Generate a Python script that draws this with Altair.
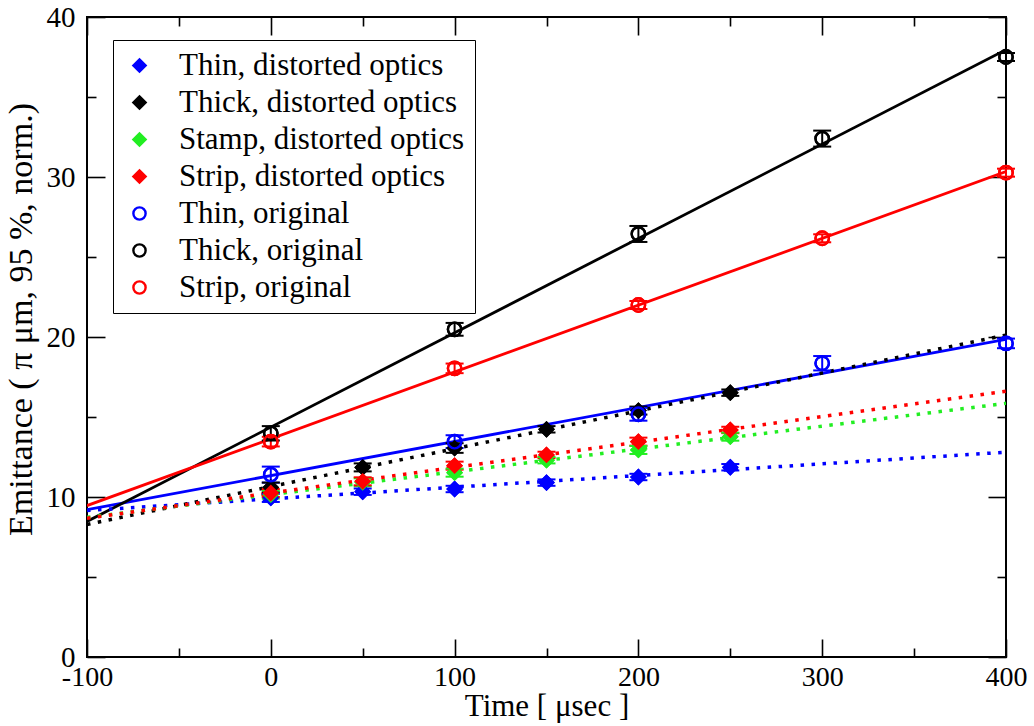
import altair as alt
import pandas as pd

# ---------------- data ----------------
series_names = [
    "Thin, distorted optics",
    "Thick, distorted optics",
    "Stamp, distorted optics",
    "Strip, distorted optics",
    "Thin, original",
    "Thick, original",
    "Strip, original",
]
series_colors = ["#0000ff", "#000000", "#22ee22", "#ff0000", "#0000ff", "#000000", "#ff0000"]
series_fills = ["#0000ff", "#000000", "#22ee22", "#ff0000", "transparent", "transparent", "transparent"]
series_shapes = ["diamond", "diamond", "diamond", "diamond", "circle", "circle", "circle"]

time_distorted = [0, 50, 100, 150, 200, 250]
thin_distorted = [9.94, 10.33, 10.50, 10.90, 11.25, 11.86]
thin_distorted_err = [0.25, 0.2, 0.2, 0.2, 0.2, 0.2]
thick_distorted = [10.60, 11.85, 13.06, 14.23, 15.40, 16.52]
thick_distorted_err = [0.3, 0.25, 0.3, 0.2, 0.25, 0.2]
stamp_distorted = [10.15, 10.92, 11.52, 12.30, 12.94, 13.77]
stamp_distorted_err = [0.25, 0.25, 0.25, 0.2, 0.25, 0.25]
strip_distorted = [10.25, 10.98, 11.96, 12.63, 13.46, 14.19]
strip_distorted_err = [0.25, 0.25, 0.25, 0.2, 0.25, 0.2]

time_original = [0, 100, 200, 300, 400]
thin_original = [11.40, 13.46, 15.17, 18.36, 19.60]
thin_original_err = [0.5, 0.4, 0.4, 0.45, 0.3]
thick_original = [13.98, 20.48, 26.44, 32.40, 37.50]
thick_original_err = [0.45, 0.4, 0.5, 0.5, 0.25]
strip_original = [13.46, 18.04, 22.00, 26.17, 30.27]
strip_original_err = [0.3, 0.3, 0.25, 0.25, 0.25]

x_major = [-100, 0, 100, 200, 300, 400]
x_minor = [-50, 50, 150, 250, 350]
y_major = [0, 10, 20, 30, 40]
y_minor = [5, 15, 25, 35]

# ---------------- table ----------------
rows = []
def add(name, kind, times, vals, errs):
    for t, v, e in zip(times, vals, errs):
        rows.append({"series": name, "kind": kind, "time": t, "value": v,
                     "lo": v - e, "hi": v + e})

add(series_names[0], "distorted", time_distorted, thin_distorted, thin_distorted_err)
add(series_names[1], "distorted", time_distorted, thick_distorted, thick_distorted_err)
add(series_names[2], "distorted", time_distorted, stamp_distorted, stamp_distorted_err)
add(series_names[3], "distorted", time_distorted, strip_distorted, strip_distorted_err)
add(series_names[4], "original", time_original, thin_original, thin_original_err)
add(series_names[5], "original", time_original, thick_original, thick_original_err)
add(series_names[6], "original", time_original, strip_original, strip_original_err)
df = pd.DataFrame(rows)

FONT = "Liberation Serif"
xscale = alt.Scale(domain=[-100, 400], nice=False, zero=False)
yscale = alt.Scale(domain=[0, 40], nice=False, zero=False)
stroke_scale = alt.Scale(domain=series_names, range=series_colors)
fill_scale = alt.Scale(domain=series_names, range=series_fills)
shape_scale = alt.Scale(domain=series_names, range=series_shapes)

base = alt.Chart(df)
X = alt.X("time:Q", scale=xscale, axis=None)
Y = alt.Y("value:Q", scale=yscale, axis=None)
S_noleg = alt.Stroke("series:N", scale=stroke_scale, legend=None)

lines_orig = (
    base.transform_filter(alt.datum.kind == "original")
    .transform_regression("time", "value", groupby=["series"], extent=[-100, 400])
    .mark_line(strokeWidth=2.8, clip=True)
    .encode(x=X, y=Y, stroke=S_noleg)
)
lines_dist = (
    base.transform_filter(alt.datum.kind == "distorted")
    .transform_regression("time", "value", groupby=["series"], extent=[-100, 400])
    .mark_line(strokeWidth=3.5, strokeDash=[3.5, 7.5], strokeCap="butt", clip=True)
    .encode(x=X, y=Y, stroke=S_noleg)
)
err_bar = base.mark_rule(strokeWidth=2).encode(
    x=X, y=alt.Y("lo:Q", scale=yscale, axis=None), y2="hi:Q", stroke=S_noleg
)
cap_lo = base.mark_rule(strokeWidth=2, xOffset=-9, x2Offset=9).encode(
    x=X, x2="time:Q", y=alt.Y("lo:Q", scale=yscale, axis=None), stroke=S_noleg
)
cap_hi = base.mark_rule(strokeWidth=2, xOffset=-9, x2Offset=9).encode(
    x=X, x2="time:Q", y=alt.Y("hi:Q", scale=yscale, axis=None), stroke=S_noleg
)

legend = alt.Legend(
    title=None, orient="none", legendX=26, legendY=23,
    labelFont=FONT, labelFontSize=31, labelColor="black", labelLimit=600,
    symbolSize=150, symbolStrokeWidth=2.4, labelOffset=24,
    strokeColor="black", fillColor="white", padding=10, rowPadding=5,
    symbolOffset=1,
)

def points_layer(with_legend):
    if with_legend:
        enc = dict(
            stroke=alt.Stroke("series:N", scale=stroke_scale, legend=legend),
            fill=alt.Fill("series:N", scale=fill_scale, legend=legend),
            shape=alt.Shape("series:N", scale=shape_scale, legend=legend),
        )
    else:
        enc = dict(
            stroke=S_noleg,
            fill=alt.Fill("series:N", scale=fill_scale, legend=None),
            shape=alt.Shape("series:N", scale=shape_scale, legend=None),
        )
    return base.mark_point(size=180, strokeWidth=2.4, opacity=1, fillOpacity=1).encode(
        x=X, y=Y, **enc
    )

# ---------------- axes (ticks pointing inward, frame on four sides) ----------------
common = dict(grid=False, domain=False)
def axis_layer(xaxis, yaxis):
    return base.mark_point(opacity=0).encode(
        x=alt.X("time:Q", scale=xscale, axis=xaxis),
        y=alt.Y("value:Q", scale=yscale, axis=yaxis),
    )

lab_x = alt.Axis(orient="bottom", values=x_major, ticks=False, labelFont=FONT, labelFontSize=28,
                 labelColor="black", labelPadding=6, labelExpr="'' + datum.value",
                 labelFlush=False, labelOverlap=False,
                 title="Time [ μsec ]", titleFont=FONT, titleFontSize=31, titleFontWeight="normal",
                 titleColor="black", titlePadding=0, **common)
lab_y = alt.Axis(orient="left", values=y_major, ticks=False, labelFont=FONT, labelFontSize=29,
                 labelColor="black", labelPadding=12, labelExpr="'' + datum.value",
                 labelFlush=False, labelOverlap=False,
                 title="Emittance ( π μm, 95 %, norm.)", titleFont=FONT, titleFontSize=34,
                 titleFontWeight="normal", titleColor="black", titlePadding=8, titleY=302,
                 **common)

def tick_axis(orient, values, size):
    return alt.Axis(orient=orient, values=values, labels=False, title=None,
                    tickSize={"expr": str(-size)}, tickColor="black", tickWidth=1.6, **common)

layers = [
    points_layer(True),
    lines_orig, lines_dist, err_bar, cap_lo, cap_hi,
    points_layer(False),
    axis_layer(lab_x, lab_y),
    axis_layer(tick_axis("bottom", x_major, 18), tick_axis("left", y_major, 18)),
    axis_layer(tick_axis("bottom", x_minor, 9), tick_axis("left", y_minor, 9)),
    axis_layer(tick_axis("top", x_major, 18), tick_axis("right", y_major, 18)),
    axis_layer(tick_axis("top", x_minor, 9), tick_axis("right", y_minor, 9)),
]

chart = (
    alt.layer(*layers)
    .resolve_axis(x="independent", y="independent")
    .properties(width=919, height=640,
                autosize=alt.AutoSizeParams(type="none"),
                padding={"left": 87, "top": 17, "right": 28, "bottom": 69},
                background="white")
    .configure_view(stroke="black", strokeWidth=2)
)

chart.save("out.html", embed_options={"renderer": "svg", "actions": False})
